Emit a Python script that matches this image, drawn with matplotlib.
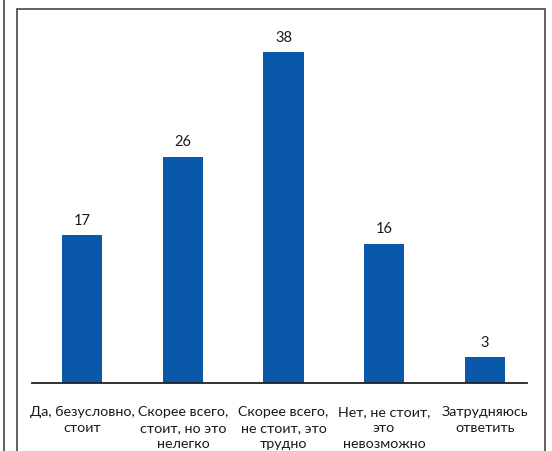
import matplotlib.pyplot as plt
from matplotlib.lines import Line2D
from matplotlib.patches import Rectangle

# data
categories = [
    "Да, безусловно,\nстоит",
    "Скорее всего,\nстоит, но это\nнелегко",
    "Скорее всего,\nне стоит, это\nтрудно",
    "Нет, не стоит,\nэто\nневозможно",
    "Затрудняюсь\nответить",
]
values = [17, 26, 38, 16, 3]

bar_color = "#0A58AA"
frame_color = "#555555"

plt.rcParams["font.family"] = ["Lato", "DejaVu Sans"]

fig = plt.figure(figsize=(5.52, 4.52), dpi=100)
W, H = 552, 452

# outer frame lines
fig.add_artist(Line2D([4 / W, 4 / W], [0, 1], color=frame_color, lw=1.3,
                      transform=fig.transFigure))
fig.add_artist(Rectangle((17 / W, -0.1), (545 - 17) / W, 1.1 - 10 / H,
                         fill=False, edgecolor=frame_color, lw=1.3,
                         transform=fig.transFigure))

ax = fig.add_axes([32 / W, (H - 384) / H, (527 - 32) / W, 344 / H])
x = range(len(values))
bars = ax.bar(x, values, width=0.4, color=bar_color)

for xi, v in zip(x, values):
    ax.annotate(str(v), (xi, v), xytext=(0, 6), textcoords="offset points",
                ha="center", va="bottom", fontsize=10.5, color="#1a1a1a")

ax.set_xlim(-0.5, 4.42)
ax.set_ylim(0, 39.5)
ax.set_xticks(list(x))
ax.set_xticklabels(categories, fontsize=10.3, color="#1a1a1a", linespacing=1.4)
ax.tick_params(axis="x", length=0, pad=16)
ax.set_yticks([])
for s in ["left", "right", "top"]:
    ax.spines[s].set_visible(False)
ax.spines["bottom"].set_color("#222222")
ax.spines["bottom"].set_linewidth(1.3)

fig.savefig("out.png", dpi=100)
